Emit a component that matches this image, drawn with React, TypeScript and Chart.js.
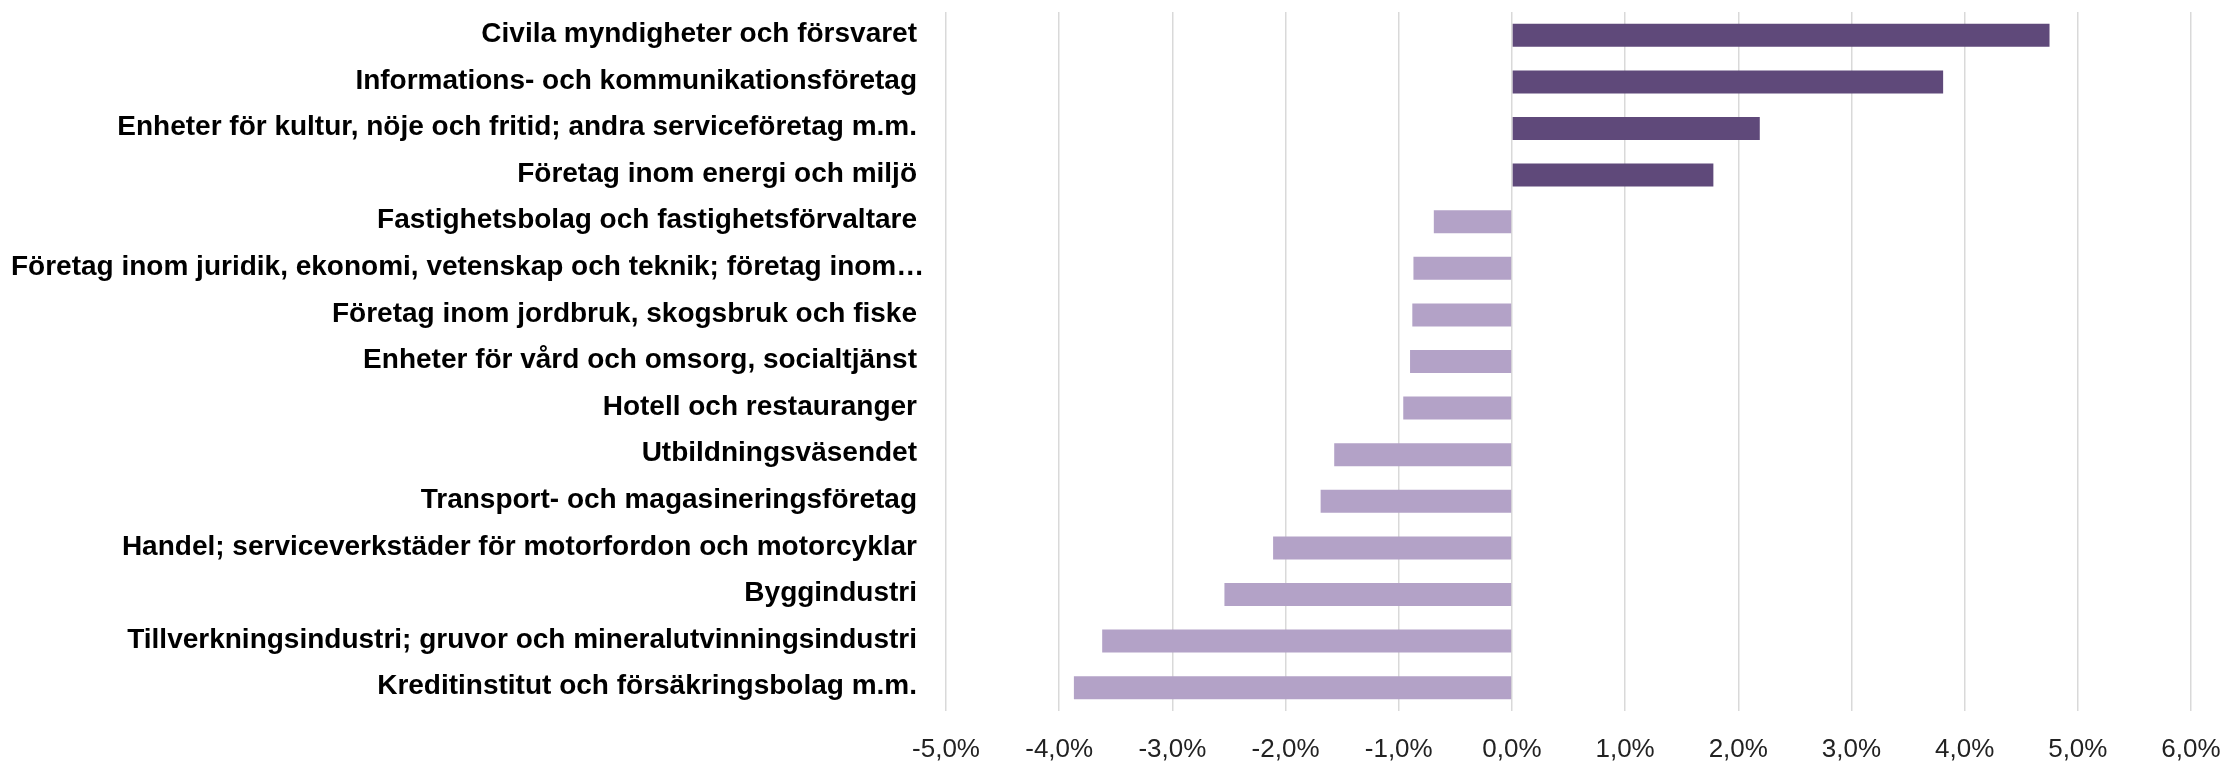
import React, { useEffect, useRef } from 'react';
import { Chart, registerables } from 'chart.js';

Chart.register(...registerables);

const categories: string[] = [
  'Civila myndigheter och försvaret',
  'Informations- och kommunikationsföretag',
  'Enheter för kultur, nöje och fritid; andra serviceföretag m.m.',
  'Företag inom energi och miljö',
  'Fastighetsbolag och fastighetsförvaltare',
  'Företag inom juridik, ekonomi, vetenskap och teknik; företag inom…',
  'Företag inom jordbruk, skogsbruk och fiske',
  'Enheter för vård och omsorg, socialtjänst',
  'Hotell och restauranger',
  'Utbildningsväsendet',
  'Transport- och magasineringsföretag',
  'Handel; serviceverkstäder för motorfordon och motorcyklar',
  'Byggindustri',
  'Tillverkningsindustri; gruvor och mineralutvinningsindustri',
  'Kreditinstitut och försäkringsbolag m.m.',
];

const values: number[] = [
  4.75, 3.81, 2.19, 1.78, -0.69, -0.87, -0.88, -0.9, -0.96, -1.57, -1.69, -2.11, -2.54, -3.62, -3.87,
];

const xMin = -5;
const xMax = 6;
const xStep = 1;

const positiveColor = '#5F497A';
const negativeColor = '#B3A2C7';

const formatPercent = (v: number) => {
  const s = (Math.abs(v) < 1e-9 ? 0 : v).toFixed(1).replace('.', ',');
  return s + '%';
};

export default function App() {
  const ref = useRef<HTMLCanvasElement>(null);

  useEffect(() => {
    document.body.style.margin = '0';
    document.body.style.overflow = 'hidden';
    const canvas = ref.current;
    if (!canvas) return;

    const labelFont = 'bold 28px "Liberation Sans", Arial, sans-serif';

    const yLabelPlugin = {
      id: 'yLabels',
      afterDraw(chart: any) {
        const scale = chart.scales.y;
        const ctx = chart.ctx;
        ctx.save();
        ctx.font = labelFont;
        ctx.fillStyle = '#000000';
        ctx.textBaseline = 'middle';
        const right = scale.right - 29;
        categories.forEach((label, i) => {
          const y = scale.getPixelForTick(i) - 1;
          const w = ctx.measureText(label).width;
          if (right - w < 11) {
            ctx.textAlign = 'left';
            ctx.fillText(label, 11, y);
          } else {
            ctx.textAlign = 'right';
            ctx.fillText(label, right, y);
          }
        });
        ctx.restore();
      },
    };

    const chart = new Chart(canvas, {
      type: 'bar',
      data: {
        labels: categories,
        datasets: [
          {
            data: values,
            backgroundColor: values.map((v) => (v >= 0 ? positiveColor : negativeColor)),
            borderWidth: 0,
            barPercentage: 0.494,
            categoryPercentage: 1,
          },
        ],
      },
      options: {
        indexAxis: 'y',
        animation: false,
        responsive: false,
        devicePixelRatio: 1,
        layout: { padding: { top: 12, right: 34, bottom: 0, left: 0 } },
        plugins: {
          legend: { display: false },
          tooltip: { enabled: false },
        },
        scales: {
          x: {
            type: 'linear',
            position: 'bottom',
            min: xMin,
            max: xMax,
            ticks: {
              stepSize: xStep,
              padding: 23,
              color: '#222222',
              font: { family: '"Liberation Sans", Arial, sans-serif', size: 26 },
              callback: (v: any) => formatPercent(Number(v)),
            },
            grid: { color: '#D9D9D9', lineWidth: 1.5, drawTicks: false },
            border: { display: false },
            afterFit: (s: any) => {
              s.height = 50;
              s.paddingRight = 0;
              s.paddingLeft = 0;
            },
          },
          y: {
            type: 'category',
            ticks: { display: false },
            grid: { display: false },
            border: { display: false },
            afterFit: (s: any) => {
              s.width = 946;
              s.paddingTop = 0;
              s.paddingBottom = 0;
            },
          },
        },
      },
      plugins: [yLabelPlugin],
    });

    return () => {
      chart.destroy();
    };
  }, []);

  return (
    <div style={{ width: 2225, height: 761 }}>
      <canvas ref={ref} width={2225} height={761} style={{ display: 'block', width: 2225, height: 761 }} />
    </div>
  );
}
